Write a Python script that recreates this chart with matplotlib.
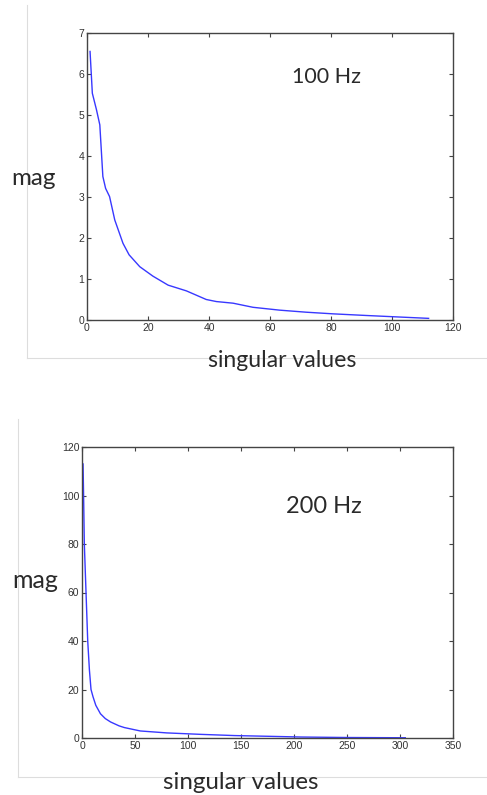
import matplotlib
matplotlib.use("Agg")
import matplotlib.pyplot as plt
from matplotlib.lines import Line2D

# ---- data ----
x100 = [1, 1.75, 3.1, 4.2, 5.2, 6.1, 7.4, 9.1, 11.8, 13.8, 17.3, 21.6, 26.6, 32.6, 39.1,
        42.4, 47.9, 54.4, 63.2, 71.9, 80.7, 91.6, 100.3, 112]
y100 = [6.55, 5.53, 5.13, 4.76, 3.5, 3.21, 3.01, 2.44, 1.87, 1.59, 1.30, 1.07, 0.85, 0.71, 0.50,
        0.45, 0.41, 0.31, 0.24, 0.19, 0.15, 0.11, 0.08, 0.04]

x200 = [1, 1.5, 2.2, 3, 3.8, 5.4, 7, 8.5, 10.4, 13, 17.4, 22, 27, 35, 40, 55, 80, 112, 144,
        176, 207, 250, 305]
y200 = [113, 100, 80, 70, 60, 40, 28, 20, 17, 13.5, 10, 8, 6.6, 5, 4.3, 2.9, 2.1, 1.5, 1.0,
        0.7, 0.4, 0.2, 0.1]

xticks100 = [0, 20, 40, 60, 80, 100, 120]
yticks100 = [0, 1, 2, 3, 4, 5, 6, 7]
xticks200 = [0, 50, 100, 150, 200, 250, 300, 350]
yticks200 = [0, 20, 40, 60, 80, 100, 120]

W, H = 487, 795
fig = plt.figure(figsize=(W / 100, H / 100), dpi=100)
fig.patch.set_facecolor("white")

def px(x, y):
    return x / W, 1 - y / H

def style(ax, xt, yt):
    ax.set_xlim(xt[0], xt[-1])
    ax.set_ylim(yt[0], yt[-1])
    ax.set_xticks(xt)
    ax.set_yticks(yt)
    ax.tick_params(direction="in", length=3, width=0.8, top=True, right=True,
                   labelsize=7.5, labelcolor="#333333", color="#444444", pad=2)
    for lbl in ax.get_xticklabels() + ax.get_yticklabels():
        lbl.set_family(["Liberation Sans", "DejaVu Sans"])
    for s in ax.spines.values():
        s.set_color("#444444")
        s.set_linewidth(1.0)

# top axes
ax1 = fig.add_axes([87 / W, 1 - 320 / H, (453 - 87) / W, (320 - 33) / H])
ax1.plot(x100, y100, color="#3838ff", lw=1.0)
style(ax1, xticks100, yticks100)

# bottom axes
ax2 = fig.add_axes([82 / W, 1 - 738 / H, (453 - 82) / W, (738 - 447) / H])
ax2.plot(x200, y200, color="#3838ff", lw=1.0)
style(ax2, xticks200, yticks200)

font = ["Lato", "DejaVu Sans"]
tc = "#2a2a2a"
fig.text(*px(33.5, 185), "mag", ha="center", va="baseline", fontsize=17.4, family=font, color=tc)
fig.text(*px(35.5, 588), "mag", ha="center", va="baseline", fontsize=18, family=font, color=tc)
fig.text(*px(327, 83), "100 Hz", ha="center", va="baseline", fontsize=15.5, family=font, color=tc)
fig.text(*px(324, 513), "200 Hz", ha="center", va="baseline", fontsize=17, family=font, color=tc)
fig.text(*px(282, 367), "singular values", ha="center", va="baseline", fontsize=16.6, family=font, color=tc)
fig.text(*px(241, 789), "singular values", ha="center", va="baseline", fontsize=17.4, family=font, color=tc)

# light gray frame lines
gc = "#dddddd"
fig.add_artist(Line2D([27 / W, 27 / W], [1 - 5 / H, 1 - 358 / H], color=gc, lw=0.8))
fig.add_artist(Line2D([27 / W, 1.0], [1 - 358 / H, 1 - 358 / H], color=gc, lw=0.8))
fig.add_artist(Line2D([18 / W, 18 / W], [1 - 419 / H, 1 - 777 / H], color=gc, lw=0.8))
fig.add_artist(Line2D([18 / W, 1.0], [1 - 777 / H, 1 - 777 / H], color=gc, lw=0.8))

fig.savefig("out.png", dpi=100)
